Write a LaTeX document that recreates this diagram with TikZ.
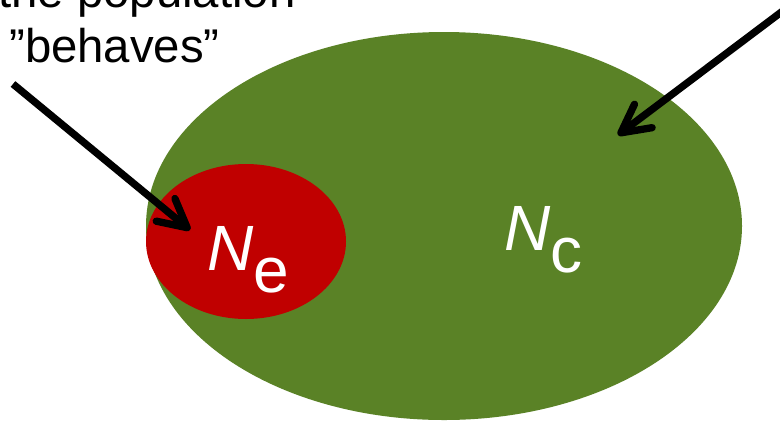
\documentclass[tikz,border=0pt]{standalone}
\usepackage{fontspec}
\setmainfont{Liberation Sans}
\usetikzlibrary{shapes.geometric,arrows.meta}
\definecolor{leafgreen}{HTML}{5A8226}
\definecolor{deepred}{HTML}{C00000}
\begin{document}
\begin{tikzpicture}[x=0.75pt,y=-0.75pt,
  blob/.style={ellipse,draw=none,inner sep=0pt},
  pointer/.style={line width=5.5pt,-{Straight Barb[length=21pt,width=22pt,round]}},
  caption/.style={inner sep=0pt,anchor=base west,font=\fontsize{35.5}{42}\selectfont},
  sym/.style={inner sep=0pt,anchor=base west,text=white,font=\fontsize{48}{56}\selectfont}]
\useasboundingbox (0,0) rectangle (780,422);
\clip (0,0) rectangle (780,422);
\node[blob,fill=leafgreen,minimum width=447pt,minimum height=291pt] (pop) at (444,226) {};
\node[blob,fill=deepred,minimum width=150pt,minimum height=116.25pt] (eff) at (246,241.5) {};
\node[sym] (ne) at (207,270) {\textit{N}\raisebox{-16.5pt}{e}};
\node[sym] (nc) at (504,250) {\textit{N}\raisebox{-16.5pt}{c}};
\node[caption] (l1) at (-2,7) {the population};
\node[caption] (l2) at (9,62) {”behaves”};
\coordinate (s1) at (13,84);
\coordinate (t1) at (190,230);
\coordinate (s2) at (800,-2);
\coordinate (t2) at (618,135);
\draw[pointer] (s1) -- (t1);
\draw[pointer] (s2) -- (t2);
\end{tikzpicture}
\end{document}
